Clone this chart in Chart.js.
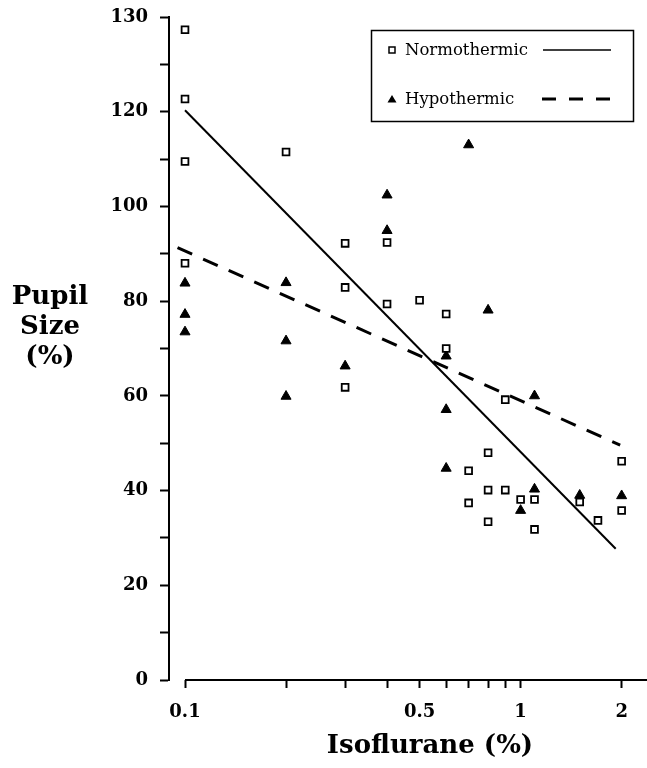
<!DOCTYPE html>
<html>
<head>
<meta charset="utf-8">
<script src="https://cdn.jsdelivr.net/npm/chart.js@4.4.1/dist/chart.umd.min.js"></script>
<style>
body{margin:0;background:#fff;}
canvas{display:block;}
</style>
</head>
<body>
<canvas id="chart" width="647" height="768"></canvas>
<script>
// isoflurane dose (%) and pupil size (%)
const normDose = [0.1,0.1,0.1,0.1,0.2,0.3,0.3,0.3,0.4,0.4,0.5,0.6,0.6,0.7,0.7,0.8,0.8,0.8,0.9,0.9,1.0,1.1,1.1,1.5,1.7,2.0,2.0];
const normSize = [137.3,122.7,109.5,88.0,111.5,92.2,82.9,61.8,92.4,79.4,80.2,77.3,70.0,44.2,37.4,48.0,40.1,33.4,59.2,40.1,38.1,38.1,31.8,37.6,33.7,46.2,35.8];

const hypoDose = [0.1,0.1,0.1,0.2,0.2,0.2,0.3,0.4,0.4,0.6,0.6,0.6,0.7,0.8,1.0,1.1,1.1,1.5,2.0];
const hypoSize = [83.8,77.2,73.5,83.9,71.6,59.9,66.3,102.4,94.9,68.4,57.1,44.7,113.0,78.1,35.8,60.0,40.3,39.0,38.9];

// regression lines (end points)
const normFitDose = [0.1,1.92];
const normFitSize = [120.3,27.7];
const hypoFitDose = [0.095,1.98];
const hypoFitSize = [91.3,49.6];

// ticks
const xTickValues = [0.1,0.2,0.3,0.4,0.5,0.6,0.7,0.8,0.9,1,2];
const xLabelValues = [0.1,0.5,1,2];
const xLabelTexts = ["0.1","0.5","1","2"];
const yLabelValues = [0,20,40,60,80,100,120,140];
const yLabelTexts = ["0","20","40","60","80","100","120","130"];

const serif = "'DejaVu Serif', serif";

function toPoints(xs,ys){
return xs.map((x,i)=>({x:x,y:ys[i]}));
}

// x axis line starting at 0.1, legend box, axis titles
const frame = {
id:"frame",
afterDraw(chart){
const c = chart.ctx;
const xs = chart.scales.x;
const area = chart.chartArea;
c.save();
c.strokeStyle = "#000";
c.fillStyle = "#000";

c.lineWidth = 2;
c.beginPath();
c.moveTo(xs.getPixelForValue(0.1),area.bottom);
c.lineTo(area.right,area.bottom);
c.stroke();

// legend
c.lineWidth = 1.5;
c.strokeRect(371.5,30.5,262,91);

c.font = "16.5px " + serif;
c.textBaseline = "middle";
c.textAlign = "left";

c.strokeRect(389,47,6,6);
c.fillText("Normothermic",405,51);
c.beginPath();
c.moveTo(543,50);
c.lineTo(611,50);
c.stroke();

c.beginPath();
c.moveTo(392,95);
c.lineTo(396.5,102.5);
c.lineTo(387.5,102.5);
c.closePath();
c.fill();
c.fillText("Hypothermic",405,100);
c.lineWidth = 3;
c.setLineDash([14,13]);
c.beginPath();
c.moveTo(542,99);
c.lineTo(611,99);
c.stroke();
c.setLineDash([]);

// axis titles
c.font = "bold 26px " + serif;
c.textAlign = "center";
c.fillText("Pupil",50,297);
c.fillText("Size",50,327);
c.fillText("(%)",50,357);
c.fillText("Isoflurane (%)",430,746);
c.restore();
}
};

new Chart(document.getElementById("chart"),{
type:"scatter",
data:{
datasets:[
{
label:"Normothermic",
data:toPoints(normDose,normSize),
pointStyle:"rect",
pointRadius:4.8,
borderWidth:1.8,
borderColor:"#000",
backgroundColor:"#fff"
},
{
label:"Hypothermic",
data:toPoints(hypoDose,hypoSize),
pointStyle:"triangle",
pointRadius:5.8,
borderWidth:1,
borderColor:"#000",
backgroundColor:"#000"
},
{
type:"line",
label:"Normothermic fit",
data:toPoints(normFitDose,normFitSize),
borderColor:"#000",
borderWidth:2,
pointRadius:0,
fill:false
},
{
type:"line",
label:"Hypothermic fit",
data:toPoints(hypoFitDose,hypoFitSize),
borderColor:"#000",
borderWidth:3,
borderDash:[16,12],
pointRadius:0,
fill:false
}
]
},
options:{
responsive:false,
animation:false,
layout:{autoPadding:false,padding:{top:17,right:0,bottom:0,left:0}},
plugins:{
legend:{display:false},
tooltip:{enabled:false}
},
scales:{
x:{
type:"logarithmic",
min:0.0896,
max:2.38,
afterBuildTicks:s=>{
s.ticks = xTickValues.map(v=>({value:v}));
},
afterFit:s=>{
s.height = 88;
s.paddingLeft = 0;
s.paddingRight = 0;
},
border:{display:false},
grid:{
drawOnChartArea:false,
tickLength:8,
tickWidth:2,
tickColor:"#000"
},
ticks:{
autoSkip:false,
maxRotation:0,
padding:14,
color:"#000",
font:{family:serif,size:18,weight:"bold"},
callback:v=>{
const i = xLabelValues.indexOf(v);
return i<0 ? "" : xLabelTexts[i];
}
}
},
y:{
min:0,
max:140,
afterFit:s=>{
s.width = 169;
s.paddingTop = 0;
s.paddingBottom = 0;
},
border:{display:true,color:"#000",width:2},
grid:{
drawOnChartArea:false,
tickLength:9,
tickWidth:2,
tickColor:"#000"
},
ticks:{
stepSize:10,
autoSkip:false,
padding:12,
color:"#000",
font:{family:serif,size:18,weight:"bold"},
callback:v=>{
const i = yLabelValues.indexOf(v);
return i<0 ? "" : yLabelTexts[i];
}
}
}
}
},
plugins:[frame]
});
</script>
</body>
</html>
